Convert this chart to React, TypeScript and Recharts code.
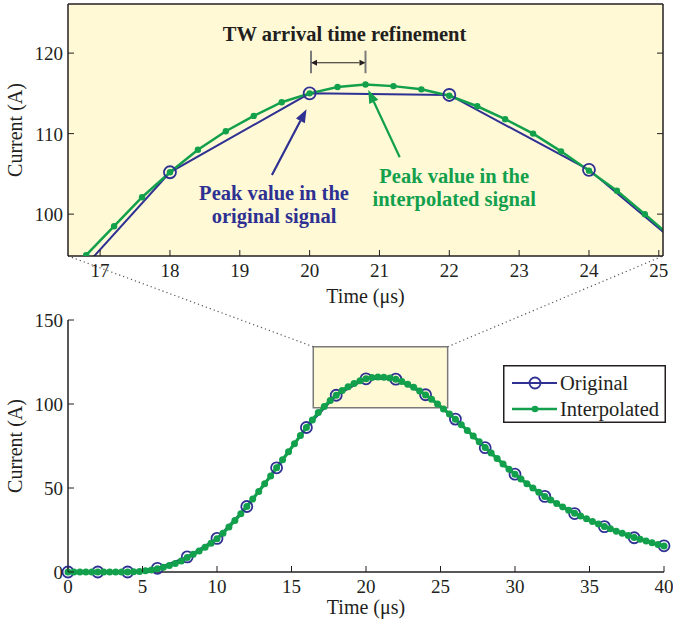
import React from "react";
import {
  LineChart,
  Line,
  XAxis,
  YAxis,
  CartesianGrid,
  ReferenceLine,
  ReferenceArea,
  ReferenceDot,
  Legend,
} from "recharts";

const BLUE = "#2e3192";
const GREEN = "#12a04c";
const YELLOW = "#fff9d6";
const INK = "#231f20";
const FONT = "'Liberation Serif', 'Times New Roman', serif";

// original signal, sampled every 2 us
const origTime = [0, 2, 4, 6, 8, 10, 12, 14, 16, 18, 20, 22, 24, 26, 28, 30, 32, 34, 36, 38, 40];
const origCurrent = [0, 0, 0, 2.2, 9, 20, 39, 62, 86, 105.2, 115, 114.8, 105.5, 91, 74, 58.2, 45, 34.8, 27, 20.4, 15.6];

// interpolated signal, every 0.4 us
const interpTime = [
  0, 0.4, 0.8, 1.2, 1.6, 2, 2.4, 2.8, 3.2, 3.6, 4, 4.4, 4.8, 5.2, 5.6, 6, 6.4, 6.8, 7.2, 7.6,
  8, 8.4, 8.8, 9.2, 9.6, 10, 10.4, 10.8, 11.2, 11.6, 12, 12.4, 12.8, 13.2, 13.6, 14, 14.4, 14.8, 15.2, 15.6,
  16, 16.4, 16.8, 17.2, 17.6, 18, 18.4, 18.8, 19.2, 19.6, 20, 20.4, 20.8, 21.2, 21.6, 22, 22.4, 22.8, 23.2, 23.6,
  24, 24.4, 24.8, 25.2, 25.6, 26, 26.4, 26.8, 27.2, 27.6, 28, 28.4, 28.8, 29.2, 29.6, 30, 30.4, 30.8, 31.2, 31.6,
  32, 32.4, 32.8, 33.2, 33.6, 34, 34.4, 34.8, 35.2, 35.6, 36, 36.4, 36.8, 37.2, 37.6, 38, 38.4, 38.8, 39.2, 39.6,
  40,
];
const interpCurrent = [
  0, 0, 0, 0, 0, 0, 0, 0, 0, 0, 0, 0.1, 0.3, 0.7, 1.2, 2.0, 2.8, 3.8, 5.0, 6.6,
  8.6, 10.5, 12.5, 14.7, 17.1, 19.8, 23.1, 26.8, 30.6, 34.7, 39.0, 43.4, 47.9, 52.5, 57.2, 62.0, 66.8, 71.6, 76.4, 81.2,
  86.0, 90.5, 94.9, 98.5, 102.1, 105.2, 108.0, 110.3, 112.2, 113.9, 115.0, 115.8, 116.1, 115.9, 115.5, 114.7, 113.4, 111.8, 110.0, 107.8,
  105.4, 102.9, 100.0, 97.0, 94.0, 90.9, 87.6, 84.3, 80.9, 77.5, 74.1, 70.8, 67.5, 64.3, 61.2, 58.2, 55.4, 52.6, 50.0, 47.4,
  45.0, 42.8, 40.7, 38.7, 36.8, 35.0, 33.3, 31.7, 30.1, 28.6, 27.1, 25.7, 24.3, 23.0, 21.8, 20.6, 19.5, 18.4, 17.4, 16.4,
  15.5,
];

const mainXTicks = [0, 5, 10, 15, 20, 25, 30, 35, 40];
const mainYTicks = [0, 50, 100, 150];
const zoomXTicks = [17, 18, 19, 20, 21, 22, 23, 24, 25];
const zoomYTicks = [100, 110, 120];

const zoomXDomain = [16.54, 25.06];
const zoomYDomain = [94.8, 126.1];

// zoom window drawn in the main chart, and the dotted leaders up to the inset corners
const zoomBox = { x1: 16.46, x2: 25.48, y1: 97.8, y2: 134.1 };
const leaders = [
  [{ x: 16.46, y: 134.1 }, { x: 0, y: 188.1 }],
  [{ x: 25.48, y: 134.1 }, { x: 39.93, y: 188.1 }],
];

// inset annotations (data units of the inset)
const refineSpan = [20.02, 20.8];
const refineBracketY = [117.5, 120.3];
const refineArrowY = 118.8;
const titleAt = { x: 20.5, y: 121.54 };
const titleText = "TW arrival time refinement";
const blueArrow = [{ x: 19.46, y: 104.86 }, { x: 19.955, y: 113.02 }];
const greenArrow = [{ x: 21.29, y: 107.06 }, { x: 20.84, y: 115.42 }];
const blueNoteAt = { x: 19.49, y: 101.75 };
const blueNote = ["Peak value in the", "original signal"];
const greenNoteAt = { x: 22.07, y: 103.86 };
const greenNote = ["Peak value in the", "interpolated signal"];

const origPoints = origTime.map((t, k) => ({ t, i: origCurrent[k] }));
const interpPoints = interpTime.map((t, k) => ({ t, i: interpCurrent[k] }));

const axisStyle = { stroke: INK, strokeWidth: 1.5 };
const TICK = 6;

const BottomTick = (p: any) => (
  <g>
    <line x1={p.x} x2={p.x} y1={p.y} y2={p.y - TICK} stroke={INK} strokeWidth={1} />
    <text x={p.x} y={p.y + 21} textAnchor="middle" fontSize={19} fontFamily={FONT} fill={INK}>
      {p.payload.value}
    </text>
  </g>
);

const TopTick = (p: any) => (
  <line x1={p.x} x2={p.x} y1={p.y} y2={p.y + TICK} stroke={INK} strokeWidth={1} />
);

const LeftTick = (p: any) => (
  <g>
    <line x1={p.x} x2={p.x + TICK} y1={p.y} y2={p.y} stroke={INK} strokeWidth={1} />
    <text x={p.x - 5} y={p.y + 7} textAnchor="end" fontSize={19} fontFamily={FONT} fill={INK}>
      {p.payload.value}
    </text>
  </g>
);

const RightTick = (p: any) => (
  <line x1={p.x} x2={p.x - TICK} y1={p.y} y2={p.y} stroke={INK} strokeWidth={1} />
);

const XTitle = (p: any) => {
  const vb = p.viewBox || { x: 68, y: 0, width: 596, height: 40 };
  return (
    <text x={vb.x + vb.width / 2} y={vb.y + vb.height} textAnchor="middle" fontSize={20} fontFamily={FONT} fill={INK}>
      Time (μs)
    </text>
  );
};

const YTitle = (p: any) => {
  const vb = p.viewBox || { x: 8, y: 0, width: 60, height: 250 };
  return (
    <text
      transform={`translate(${vb.x + 14}, ${vb.y + vb.height / 2}) rotate(-90)`}
      textAnchor="middle"
      fontSize={20}
      fontFamily={FONT}
      fill={INK}
    >
      Current (A)
    </text>
  );
};

const arrowShape = (color: string, width: number, head: number, half: number, both = false) => (p: any) => {
  const { x1, y1, x2, y2 } = p;
  const a = Math.atan2(y2 - y1, x2 - x1);
  const c = Math.cos(a);
  const s = Math.sin(a);
  const nx = -s * half;
  const ny = c * half;
  const ex = x2 - head * c;
  const ey = y2 - head * s;
  const sx = both ? x1 + head * c : x1;
  const sy = both ? y1 + head * s : y1;
  return (
    <g>
      <line x1={sx} y1={sy} x2={ex} y2={ey} stroke={color} strokeWidth={width} />
      <polygon points={`${x2},${y2} ${ex + nx},${ey + ny} ${ex - nx},${ey - ny}`} fill={color} />
      {both && (
        <polygon points={`${x1},${y1} ${sx + nx},${sy + ny} ${sx - nx},${sy - ny}`} fill={color} />
      )}
    </g>
  );
};

const noteShape = (lines: string[], color: string) => (p: any) => (
  <text x={p.cx} y={p.cy} textAnchor="middle" fontSize={20.5} fontWeight="bold" fontFamily={FONT} fill={color}>
    {lines.map((l, k) => (
      <tspan key={k} x={p.cx} dy={k === 0 ? 0 : 22.5}>
        {l}
      </tspan>
    ))}
  </text>
);

const LegendBox = () => (
  <svg width={163} height={58} style={{ display: "block" }}>
    <rect x={0.75} y={0.75} width={161.5} height={56.5} fill="#fff" stroke={INK} strokeWidth={1.5} />
    <line x1={9} x2={54} y1={18} y2={18} stroke={BLUE} strokeWidth={2} />
    <circle cx={32} cy={18} r={5.5} fill="none" stroke={BLUE} strokeWidth={1.8} />
    <text x={57} y={25} fontSize={20.5} fontFamily={FONT} fill={INK}>Original</text>
    <line x1={9} x2={54} y1={44} y2={44} stroke={GREEN} strokeWidth={2.5} />
    <circle cx={32} cy={44} r={3.3} fill={GREEN} />
    <text x={57} y={51} fontSize={20.5} fontFamily={FONT} fill={INK}>Interpolated</text>
  </svg>
);

export default function App() {
  return (
    <div style={{ position: "absolute", left: 0, top: 0, width: 673, height: 626, background: "#fff", fontFamily: FONT }}>
      {/* main chart */}
      <div style={{ position: "absolute", left: 0, top: 0 }}>
        <LineChart width={673} height={626} margin={{ top: 320, right: 9, bottom: 12, left: 8 }}>
          <XAxis
            type="number"
            dataKey="t"
            domain={[0, 40]}
            ticks={mainXTicks}
            interval={0}
            tickSize={0}
            tickMargin={0}
            tick={BottomTick}
            axisLine={axisStyle}
            height={42}
            label={XTitle}
          />
          <YAxis
            type="number"
            domain={[0, 150]}
            ticks={mainYTicks}
            interval={0}
            tickSize={0}
            tickMargin={0}
            tick={LeftTick}
            axisLine={axisStyle}
            width={60}
            label={YTitle}
          />
          <ReferenceArea
            x1={zoomBox.x1}
            x2={zoomBox.x2}
            y1={zoomBox.y1}
            y2={zoomBox.y2}
            fill={YELLOW}
            fillOpacity={1}
            stroke="#7a7a7a"
            strokeWidth={1.5}
            ifOverflow="visible"
          />
          {leaders.map((seg, k) => (
            <ReferenceLine
              key={k}
              segment={seg}
              stroke="#555"
              strokeWidth={1.2}
              strokeDasharray="1.2 3"
              ifOverflow="visible"
            />
          ))}
          <Line
            data={origPoints}
            dataKey="i"
            name="Original"
            stroke={BLUE}
            strokeWidth={2}
            dot={{ r: 5.5, fill: "none", stroke: BLUE, strokeWidth: 1.8 }}
            isAnimationActive={false}
          />
          <Line
            data={interpPoints}
            dataKey="i"
            name="Interpolated"
            stroke={GREEN}
            strokeWidth={3.2}
            dot={{ r: 3.5, fill: GREEN, stroke: "none" }}
            isAnimationActive={false}
          />
          <Legend
            layout="vertical"
            align="center"
            verticalAlign="middle"
            content={LegendBox}
            wrapperStyle={{ left: 503, top: 365, width: 163, height: 58 }}
          />
        </LineChart>
      </div>

      {/* zoomed inset */}
      <div style={{ position: "absolute", left: 0, top: 0 }}>
        <LineChart width={673} height={310} margin={{ top: 3, right: 9, bottom: 7, left: 8 }}>
          <CartesianGrid fill={YELLOW} fillOpacity={1} horizontal={false} vertical={false} />
          <XAxis
            xAxisId={0}
            type="number"
            dataKey="t"
            domain={zoomXDomain}
            allowDataOverflow
            ticks={zoomXTicks}
            interval={0}
            tickSize={0}
            tickMargin={0}
            tick={BottomTick}
            axisLine={axisStyle}
            height={47}
            label={XTitle}
          />
          <XAxis
            xAxisId="top"
            orientation="top"
            type="number"
            domain={zoomXDomain}
            allowDataOverflow
            ticks={zoomXTicks}
            interval={0}
            tickSize={0}
            tickMargin={0}
            tick={TopTick}
            axisLine={axisStyle}
            height={1}
          />
          <YAxis
            yAxisId={0}
            type="number"
            domain={zoomYDomain}
            allowDataOverflow
            ticks={zoomYTicks}
            interval={0}
            tickSize={0}
            tickMargin={0}
            tick={LeftTick}
            axisLine={axisStyle}
            width={60}
            label={YTitle}
          />
          <YAxis
            yAxisId="right"
            orientation="right"
            type="number"
            domain={zoomYDomain}
            allowDataOverflow
            ticks={zoomYTicks}
            interval={0}
            tickSize={0}
            tickMargin={0}
            tick={RightTick}
            axisLine={axisStyle}
            width={1}
          />
          <Line
            data={origPoints}
            dataKey="i"
            stroke={BLUE}
            strokeWidth={2}
            dot={{ r: 6, fill: "none", stroke: BLUE, strokeWidth: 1.8 }}
            isAnimationActive={false}
          />
          <Line
            data={interpPoints}
            dataKey="i"
            stroke={GREEN}
            strokeWidth={2.5}
            dot={{ r: 3.2, fill: GREEN, stroke: "none" }}
            isAnimationActive={false}
          />
          {refineSpan.map((x, k) => (
            <ReferenceLine
              key={k}
              segment={[{ x, y: refineBracketY[0] }, { x, y: refineBracketY[1] }]}
              stroke="#7a7a7a"
              strokeWidth={2}
              ifOverflow="visible"
            />
          ))}
          <ReferenceLine
            segment={[{ x: refineSpan[0], y: refineArrowY }, { x: refineSpan[1], y: refineArrowY }]}
            shape={arrowShape(INK, 1.2, 6, 3, true)}
            ifOverflow="visible"
          />
          <ReferenceLine segment={blueArrow} shape={arrowShape(BLUE, 2.2, 13, 5)} ifOverflow="visible" />
          <ReferenceLine segment={greenArrow} shape={arrowShape(GREEN, 2.2, 13, 5)} ifOverflow="visible" />
          <ReferenceDot x={titleAt.x} y={titleAt.y} shape={noteShape([titleText], INK)} ifOverflow="visible" />
          <ReferenceDot x={blueNoteAt.x} y={blueNoteAt.y} shape={noteShape(blueNote, BLUE)} ifOverflow="visible" />
          <ReferenceDot x={greenNoteAt.x} y={greenNoteAt.y} shape={noteShape(greenNote, GREEN)} ifOverflow="visible" />
        </LineChart>
      </div>
    </div>
  );
}
